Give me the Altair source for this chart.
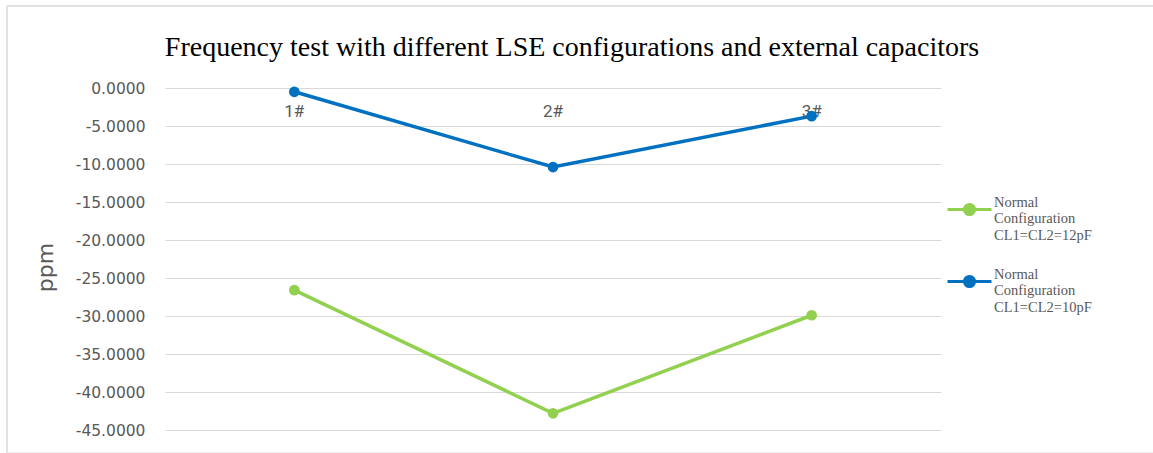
import altair as alt
import pandas as pd

# Sample positions and measured frequency deviation (ppm) for each LSE setup
categories = ["1#", "2#", "3#"]
series_names = [
    "Normal Configuration CL1=CL2=12pF",
    "Normal Configuration CL1=CL2=10pF",
]
ppm_cl12 = [-26.6, -42.8, -29.9]
ppm_cl10 = [-0.5, -10.4, -3.7]
series_colors = ["#92D050", "#0070C0"]
y_ticks = [0, -5, -10, -15, -20, -25, -30, -35, -40, -45]

rows = []
for name, vals in zip(series_names, [ppm_cl12, ppm_cl10]):
    for cat, v in zip(categories, vals):
        rows.append({"sample": cat, "series": name, "ppm": v})
df = pd.DataFrame(rows)
cat_df = pd.DataFrame({"sample": categories})

W, H = 776, 342
GRID = "#d9d9d9"
TXT = "#595959"

x_enc = alt.X("sample:N", sort=categories,
              scale=alt.Scale(type="point", padding=0.5), axis=None)
y_enc = alt.Y(
    "ppm:Q",
    scale=alt.Scale(domain=[-45, 0], nice=False, zero=False),
    axis=alt.Axis(
        values=y_ticks,
        labelExpr="replace(format(datum.value, '.4f'), '\u2212', '-')",
        labelFont="DejaVu Sans", labelFontSize=15.5, labelColor=TXT,
        labelPadding=20, labelOverlap=False, labelBound=False,
        ticks=False, domain=False,
        grid=True, gridColor=GRID, gridWidth=1, gridOpacity=1,
        title="ppm", titleFont="DejaVu Sans", titleFontSize=22,
        titleFontWeight="normal", titleColor=TXT,
        titleX=-120, titleY=H / 2 + 8, titleAngle=270,
        titleBaseline="middle", titleAlign="center",
    ),
)

color_enc = alt.Color(
    "series:N",
    sort=series_names,
    scale=alt.Scale(domain=series_names, range=series_colors),
    legend=alt.Legend(
        title=None, orient="none", legendX=781, legendY=98,
        direction="vertical",
        symbolType="M-1,0H1M0.23,0A0.23,0.23,0,1,1,-0.23,0A0.23,0.23,0,1,1,0.23,0Z",
        symbolSize=1936, symbolStrokeWidth=3,
        labelExpr="split(datum.label, ' ')",
        labelFont="Liberation Serif", labelFontSize=14.5, labelColor=TXT,
        labelBaseline="bottom",
        labelLimit=300, labelOffset=1, rowPadding=16,
    ),
)

# plot layers: lines with dot markers on every sample
lines = alt.Chart(df).mark_line(strokeWidth=3.5).encode(
    x=x_enc, y=y_enc, color=color_enc
)
points = alt.Chart(df).mark_point(filled=True, size=115, opacity=1).encode(
    x=x_enc, y=y_enc, color=color_enc
)

# category labels sit just under the zero line
cat_labels = alt.Chart(cat_df).mark_text(
    font="Roboto", fontSize=17, color=TXT, dy=24
).encode(
    x=x_enc, y=alt.value(0), text="sample:N"
)

# light frame edges around the chart: top, left and bottom
one_row = alt.Data(values=[{}])
frame_top = alt.Chart(one_row).mark_rule(stroke=GRID, strokeWidth=1.5).encode(
    x=alt.value(-158), x2=alt.value(W + 212), y=alt.value(-82)
)
frame_left = alt.Chart(one_row).mark_rule(stroke=GRID, strokeWidth=1.5).encode(
    x=alt.value(-158), y=alt.value(-82), y2=alt.value(H + 23)
)
frame_bottom = alt.Chart(one_row).mark_rule(stroke="#eeeeee", strokeWidth=1).encode(
    x=alt.value(-158), x2=alt.value(W + 212), y=alt.value(364.5)
)

chart = alt.layer(lines, cat_labels, frame_top, frame_left, frame_bottom, points).properties(
    width=W, height=H,
    background="white",
    title=alt.Title(
        "Frequency test with different LSE configurations and external capacitors",
        font="Liberation Serif", fontSize=28, fontWeight="normal",
        color="black", anchor="middle", dx=19, offset=-57,
    ),
    autosize=alt.AutoSizeParams(type="none"),
    padding={"left": 165, "top": 88, "right": 212, "bottom": 23},
).configure_view(stroke=None)

chart.save("out.html", embed_options={"renderer": "svg", "actions": False})
